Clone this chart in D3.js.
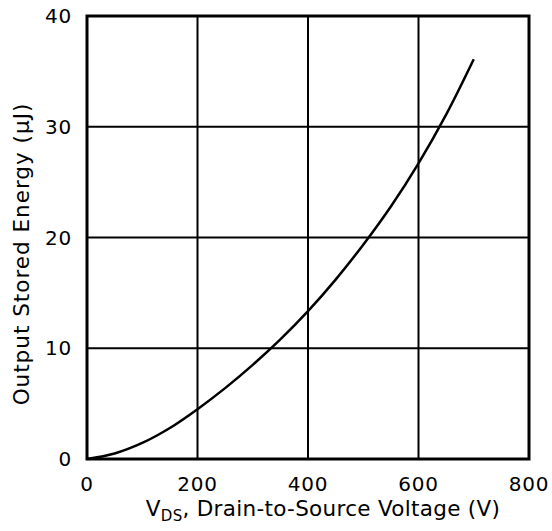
<!DOCTYPE html>
<html>
<head>
<meta charset="utf-8">
<script src="https://cdn.jsdelivr.net/npm/d3@7"></script>
<style>
  html, body { margin: 0; padding: 0; background: #fff; }
  svg { display: block; }
  text { font-family: "DejaVu Sans", Verdana, sans-serif; fill: #000; }
</style>
</head>
<body>
<svg id="chart" width="552" height="531"></svg>
<script>
// Data
const voltage = [0, 50, 100, 150, 200, 250, 300, 350, 400, 450, 500, 550, 600, 650, 700];
const energy  = [0, 0.5, 1.45, 2.8, 4.5, 6.4, 8.5, 10.8, 13.35, 16.2, 19.35, 22.8, 26.7, 31.1, 36.1];
const xTicks = [0, 200, 400, 600, 800];
const yTicks = [0, 10, 20, 30, 40];
const xTitleMain = "V";
const xTitleSub = "DS";
const xTitleRest = ", Drain-to-Source Voltage (V)";
const yTitle = "Output Stored Energy (\u00B5J)";

const svg = d3.select("#chart");
const plotL = 87, plotR = 529, plotT = 16, plotB = 459;

const x = d3.scaleLinear().domain([0, 800]).range([plotL, plotR]);
const y = d3.scaleLinear().domain([0, 40]).range([plotB, plotT]);

// grid lines
svg.append("g").selectAll("line").data(xTicks.slice(1, -1)).join("line")
  .attr("x1", d => x(d)).attr("x2", d => x(d))
  .attr("y1", plotT).attr("y2", plotB)
  .attr("stroke", "#000").attr("stroke-width", 2);
svg.append("g").selectAll("line").data(yTicks.slice(1, -1)).join("line")
  .attr("x1", plotL).attr("x2", plotR)
  .attr("y1", d => y(d)).attr("y2", d => y(d))
  .attr("stroke", "#000").attr("stroke-width", 2);

// curve
const data = voltage.map((v, i) => ({v, e: energy[i]}));
svg.append("path")
  .datum(data)
  .attr("fill", "none")
  .attr("stroke", "#000")
  .attr("stroke-width", 2.5)
  .attr("d", d3.line().x(d => x(d.v)).y(d => y(d.e)).curve(d3.curveCatmullRom));

// frame
svg.append("rect")
  .attr("x", plotL).attr("y", plotT)
  .attr("width", plotR - plotL).attr("height", plotB - plotT)
  .attr("fill", "none").attr("stroke", "#000").attr("stroke-width", 3);

// tick labels
svg.append("g").selectAll("text").data(xTicks).join("text")
  .attr("x", d => x(d)).attr("y", 491)
  .attr("text-anchor", "middle")
  .attr("font-size", 20)
  .attr("letter-spacing", 0.8)
  .text(d => d);
svg.append("g").selectAll("text").data(yTicks).join("text")
  .attr("x", 72).attr("y", d => y(d))
  .attr("dy", "0.36em")
  .attr("text-anchor", "end")
  .attr("font-size", 20)
  .attr("letter-spacing", 0.8)
  .text(d => d);

// x title
const xt = svg.append("text")
  .attr("x", 323).attr("y", 516)
  .attr("text-anchor", "middle")
  .attr("font-size", 21.5)
  .attr("letter-spacing", 0.3);
xt.append("tspan").text(xTitleMain);
xt.append("tspan").attr("font-size", 15).attr("dy", 5).text(xTitleSub);
xt.append("tspan").attr("dy", -5).text(xTitleRest);

// y title
svg.append("text")
  .attr("transform", "translate(28.5,254) rotate(-90)")
  .attr("text-anchor", "middle")
  .attr("font-size", 21.5)
  .attr("letter-spacing", 1.0)
  .text(yTitle);
</script>
</body>
</html>
